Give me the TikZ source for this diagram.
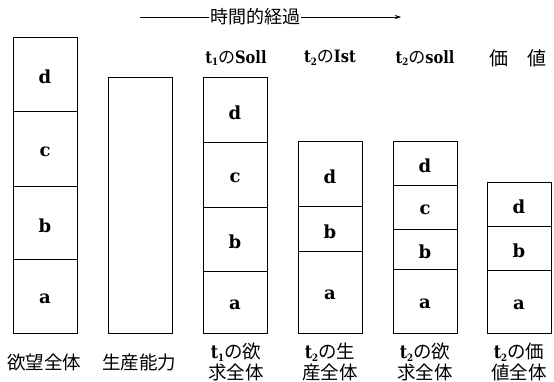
\documentclass[tikz,border=0pt]{standalone}
\usepackage{fontspec}
\setmainfont{DejaVu Serif}
\newfontfamily\jp{Noto Sans CJK JP}
\newfontfamily\hd[FakeStretch=0.86]{DejaVu Serif}
\usetikzlibrary{arrows.meta}
\newcommand\subn[1]{\raisebox{-0.3ex}{\fontsize{10}{10}\selectfont #1}}
\newcommand\segm[5]{\node[segbox, minimum height={#4-#3}, label={[lettr]center:#5}] (#1) at (#2,{(#3+#4)/2}) {};}
\tikzset{
  segbox/.style={draw, line width=0.8pt, minimum width=64pt, inner sep=0pt},
  lettr/.style={font=\fontsize{18}{18}\selectfont\bfseries, yshift=-3pt, inner sep=0pt},
  head/.style={font=\fontsize{17}{17}\selectfont\hd\bfseries, inner sep=0pt},
  foot/.style={font=\fontsize{18.5}{21.5}\selectfont\jp, align=center, inner sep=0pt},
  tl/.style={line width=0.6pt}
}
\begin{document}
\begin{tikzpicture}[x=1pt,y=-1pt]
\useasboundingbox (0,0) rectangle (554,382);
% time arrow
\node[font=\fontsize{18}{18}\selectfont\jp, inner sep=1pt] (tt) at (255,17) {時間的経過};
\coordinate (al) at (140,17);
\coordinate (ar) at (401,17);
\draw[tl] (al) -- (tt.west);
\draw[tl,-{Stealth[length=6pt,width=4pt]}] (tt.east) -- (ar);
% headers
\node[head] (h3) at (236,58) {t\subn{1}{\jp\mdseries の}Soll};
\node[head] (h4) at (330,58) {t\subn{2}{\jp\mdseries の}Ist};
\node[head] (h5) at (425,58) {t\subn{2}{\jp\mdseries の}soll};
\node[font=\fontsize{19}{19}\selectfont\jp, inner sep=0pt] (h6) at (518,58) {価\hspace{1em}値};
% column 1
\segm{c1d}{45}{37}{111}{d}
\segm{c1c}{45}{111}{186}{c}
\segm{c1b}{45}{186}{259}{b}
\segm{c1a}{45}{259}{333}{a}
% column 2
\segm{c2}{140}{77}{333}{}
% column 3
\segm{c3d}{235}{77}{142}{d}
\segm{c3c}{235}{142}{207}{c}
\segm{c3b}{235}{207}{271}{b}
\segm{c3a}{235}{271}{333}{a}
% column 4
\segm{c4d}{330}{141}{206}{d}
\segm{c4b}{330}{206}{251}{b}
\segm{c4a}{330}{251}{333}{a}
% column 5
\segm{c5d}{425}{141}{185}{d}
\segm{c5c}{425}{185}{229}{c}
\segm{c5b}{425}{229}{269}{b}
\segm{c5a}{425}{269}{333}{a}
% column 6
\segm{c6d}{519}{182}{226}{d}
\segm{c6b}{519}{226}{270}{b}
\segm{c6a}{519}{270}{333}{a}
% footers
\node[foot] (f1) at (44,362) {欲望全体};
\node[foot] (f2) at (139,362) {生産能力};
\node[foot] (f3) at (236,362) {{\hd\bfseries t\subn{1}}の欲\\求全体};
\node[foot] (f4) at (330,362) {{\hd\bfseries t\subn{2}}の生\\産全体};
\node[foot] (f5) at (425,362) {{\hd\bfseries t\subn{2}}の欲\\求全体};
\node[foot] (f6) at (519,362) {{\hd\bfseries t\subn{2}}の価\\値全体};
\end{tikzpicture}
\end{document}
